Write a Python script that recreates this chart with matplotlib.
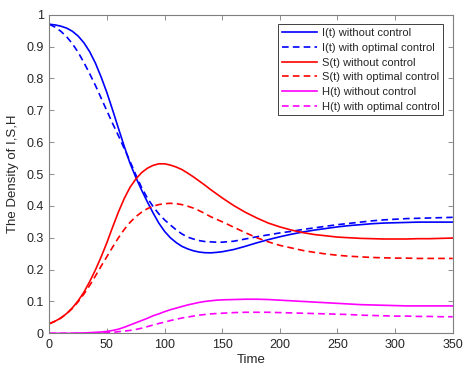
import matplotlib
matplotlib.use("Agg")
from matplotlib import pyplot as plt

plt.rcParams["font.family"] = ["Liberation Sans", "DejaVu Sans"]

# time grid (finer where the curves move fast)
t = [0, 5, 10, 15, 20, 25, 30, 35, 40, 45, 50, 55, 60, 65, 70, 75, 80, 85, 90, 95,
     100, 105, 110, 115, 120, 125, 130, 135, 140, 145, 150,
     160, 170, 180, 190, 200, 210, 220, 230, 240, 250, 260, 270, 280, 290, 300,
     310, 320, 330, 340, 350]

I_no = [0.970, 0.968, 0.964, 0.958, 0.948, 0.933, 0.912, 0.884, 0.848, 0.804,
        0.755, 0.700, 0.643, 0.587, 0.534, 0.490, 0.450, 0.413, 0.378, 0.346,
        0.320, 0.300, 0.285, 0.273, 0.265, 0.259, 0.255, 0.253, 0.2525, 0.254, 0.256,
        0.263, 0.273, 0.284, 0.294, 0.303, 0.311, 0.318, 0.324, 0.329, 0.334,
        0.338, 0.341, 0.344, 0.346, 0.347, 0.348, 0.349, 0.349, 0.349, 0.349]
I_opt = [0.970, 0.961, 0.948, 0.931, 0.909, 0.882, 0.850, 0.815, 0.778, 0.738,
         0.698, 0.658, 0.620, 0.580, 0.540, 0.498, 0.458, 0.425, 0.398, 0.375,
         0.356, 0.340, 0.325, 0.312, 0.302, 0.296, 0.291, 0.288, 0.287, 0.286, 0.286,
         0.289, 0.296, 0.303, 0.309, 0.315, 0.320, 0.326, 0.331, 0.336, 0.341,
         0.345, 0.349, 0.353, 0.356, 0.358, 0.360, 0.361, 0.362, 0.363, 0.364]
S_no = [0.030, 0.038, 0.048, 0.062, 0.080, 0.102, 0.129, 0.162, 0.199, 0.240,
        0.285, 0.334, 0.381, 0.423, 0.458, 0.484, 0.504, 0.518, 0.527, 0.532,
        0.532, 0.528, 0.522, 0.514, 0.503, 0.491, 0.478, 0.465, 0.451, 0.438, 0.425,
        0.401, 0.380, 0.362, 0.346, 0.334, 0.324, 0.316, 0.310, 0.306, 0.302,
        0.300, 0.298, 0.297, 0.296, 0.296, 0.296, 0.297, 0.297, 0.298, 0.299]
S_opt = [0.030, 0.038, 0.048, 0.061, 0.078, 0.099, 0.123, 0.150, 0.180, 0.211,
         0.241, 0.271, 0.300, 0.326, 0.348, 0.366, 0.380, 0.391, 0.399, 0.404,
         0.407, 0.408, 0.407, 0.404, 0.399, 0.393, 0.385, 0.376, 0.366, 0.358, 0.350,
         0.333, 0.316, 0.300, 0.287, 0.276, 0.268, 0.260, 0.254, 0.249, 0.245,
         0.242, 0.240, 0.238, 0.237, 0.236, 0.236, 0.235, 0.235, 0.235, 0.235]
H_no = [0.000, 0.000, 0.000, 0.000, 0.000, 0.001, 0.001, 0.002, 0.003, 0.004,
        0.006, 0.009, 0.013, 0.019, 0.026, 0.033, 0.040, 0.047, 0.055, 0.061,
        0.068, 0.074, 0.079, 0.084, 0.089, 0.093, 0.097, 0.100, 0.102, 0.104, 0.105,
        0.106, 0.107, 0.107, 0.106, 0.104, 0.102, 0.100, 0.098, 0.096, 0.094,
        0.092, 0.090, 0.089, 0.088, 0.087, 0.086, 0.086, 0.086, 0.086, 0.086]
H_opt = [0.000, 0.000, 0.000, 0.000, 0.000, 0.000, 0.000, 0.000, 0.001, 0.001,
         0.002, 0.003, 0.005, 0.007, 0.009, 0.012, 0.016, 0.021, 0.026, 0.031,
         0.035, 0.040, 0.044, 0.048, 0.051, 0.054, 0.057, 0.059, 0.061, 0.062, 0.063,
         0.065, 0.066, 0.066, 0.066, 0.065, 0.064, 0.063, 0.062, 0.061, 0.060,
         0.059, 0.057, 0.056, 0.055, 0.054, 0.054, 0.053, 0.053, 0.052, 0.052]

fig = plt.figure(figsize=(4.63, 3.74), dpi=100)
ax = fig.add_axes([0.1065, 0.1088, 0.8713, 0.8519])

lw = 1.2
dash = (4, 2.5)
ax.plot(t, I_no, color="#0000ff", lw=lw, label="I(t) without control")
ax.plot(t, I_opt, color="#0000ff", lw=lw, ls="--", dashes=dash, label="I(t) with optimal control")
ax.plot(t, S_no, color="#ff0000", lw=lw, label="S(t) without control")
ax.plot(t, S_opt, color="#ff0000", lw=lw, ls="--", dashes=dash, label="S(t) with optimal control")
ax.plot(t, H_no, color="#ff00ff", lw=lw, label="H(t) without control")
ax.plot(t, H_opt, color="#ff00ff", lw=lw, ls="--", dashes=dash, label="H(t) with optimal control")

ax.set_xlim(0, 350)
ax.set_ylim(0, 1)
ax.set_xticks(range(0, 351, 50))
ax.set_yticks([i / 10 for i in range(11)])
ax.set_yticklabels(["0", "0.1", "0.2", "0.3", "0.4", "0.5", "0.6", "0.7", "0.8", "0.9", "1"])

txt = "#262626"
for s in ax.spines.values():
    s.set_color("#7f7f7f")
    s.set_linewidth(0.8)
ax.tick_params(direction="in", length=3.5, width=0.6, color="#7f7f7f",
               top=True, right=True, labelsize=9, labelcolor=txt, pad=4)

ax.set_xlabel("Time", fontsize=9.5, color=txt, labelpad=2)
ax.set_ylabel("The Density of I,S,H", fontsize=9.5, color=txt, labelpad=5)

leg = ax.legend(loc="upper right", bbox_to_anchor=(0.9767, 0.9699), borderaxespad=0,
                fontsize=8, frameon=True, fancybox=False, framealpha=1,
                edgecolor="#404040", handlelength=3.2, handletextpad=0.4,
                labelspacing=0.42, borderpad=0.35)
leg.get_frame().set_linewidth(0.7)
for text in leg.get_texts():
    text.set_color(txt)

fig.savefig("out.png", dpi=100)
